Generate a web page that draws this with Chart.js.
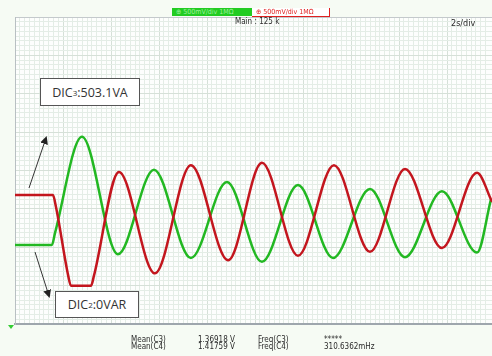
<!DOCTYPE html>
<html>
<head>
<meta charset="utf-8">
<script src="https://cdn.jsdelivr.net/npm/chart.js@4.4.1/dist/chart.umd.min.js"></script>
<style>
  html, body { margin: 0; padding: 0; background: #f6fbf4; overflow: hidden; }
  #wrap { position: relative; width: 492px; height: 356px; }
  canvas { position: absolute; left: 0; top: 0; }
  .lbl { position: absolute; white-space: nowrap; }
  .scope { font-family: "Liberation Sans Narrow", "DejaVu Sans Condensed", "Liberation Sans", sans-serif; color: #2a2a2a; }
  .note { position: absolute; border: 1px solid #555; background: #fff; font-family: "Open Sans", "Noto Sans", sans-serif;
          font-size: 12.5px; color: #333; display: flex; align-items: center; justify-content: center; box-sizing: border-box; }
  .note sub { font-size: 8px; vertical-align: -1px; }
</style>
</head>
<body>
<div id="wrap">
  <canvas id="c" width="492" height="356"></canvas>

  <!-- channel header -->
  <div class="lbl scope" style="left:172px;top:8px;width:80px;height:8px;background:#22cc22;color:#9ef09e;font-size:7px;line-height:8px;padding-left:4px;box-sizing:border-box;">&#8853; 500mV/div 1M&#937;</div>
  <div class="lbl scope" style="left:252px;top:8px;width:78px;height:9px;background:#fff;border-right:1px solid #e02020;border-bottom:1px solid #e02020;color:#e02020;font-size:7px;line-height:8px;padding-left:4px;box-sizing:border-box;">&#8853; 500mV/div 1M&#937;</div>

  <div class="lbl scope" style="left:235px;top:17px;font-size:8px;">Main : 125 k</div>
  <div class="lbl scope" style="left:451px;top:18px;font-size:9px;">2s/div</div>

  <!-- measurement readout -->
  <div class="lbl scope" style="left:131px;top:336px;font-size:8px;line-height:7px;">Mean(C3)<br>Mean(C4)</div>
  <div class="lbl scope" style="left:198px;top:336px;font-size:8px;line-height:7px;">1.36918 V<br>1.41759 V</div>
  <div class="lbl scope" style="left:258px;top:336px;font-size:8px;line-height:7px;">Freq(C3)<br>Freq(C4)</div>
  <div class="lbl scope" style="left:324px;top:336px;font-size:8px;line-height:7px;">*****<br>310.6362mHz</div>

  <!-- annotations -->
  <div class="note" style="left:40px;top:78px;width:100px;height:28px;">DIC<sub>3</sub>:503.1VA</div>
  <div class="note" style="left:55px;top:291px;width:84px;height:27px;">DIC<sub>2</sub>:0VAR</div>

  <svg class="lbl" style="left:0;top:0;" width="492" height="356">
    <defs>
      <marker id="ah" markerWidth="8" markerHeight="8" refX="6" refY="4" orient="auto" markerUnits="userSpaceOnUse">
        <path d="M0,0 L8,4 L0,8 z" fill="#222"/>
      </marker>
    </defs>
    <line x1="29" y1="188" x2="46" y2="138" stroke="#333" stroke-width="1" marker-end="url(#ah)"/>
    <line x1="35" y1="252" x2="49" y2="296" stroke="#333" stroke-width="1" marker-end="url(#ah)"/>
    <path d="M8,325 L14,325 L11,329 z" fill="#33cc33"/>
  </svg>
</div>

<script>
// Channel 3 (red) — time in seconds, level in volts
const redTime  = [0.00, 1.58, 1.71, 2.21, 2.33, 3.17, 3.29, 4.33, 5.83, 7.33, 8.88, 10.29, 11.79, 13.29, 14.79, 16.25, 17.79, 19.25, 19.88];
const redVolts = [-0.32, -0.32, -0.48, -1.36, -1.50, -1.50, -1.37, -0.02, -1.34, 0.07, -1.17, 0.10, -1.11, 0.07, -1.06, 0.02, -1.01, -0.03, -0.41];

// Channel 4 (green)
const greenTime  = [0.00, 1.54, 1.67, 2.79, 4.29, 5.79, 7.33, 8.83, 10.29, 11.79, 13.25, 14.79, 16.25, 17.79, 19.25, 19.83];
const greenVolts = [-0.97, -0.97, -0.81, 0.44, -1.09, 0.01, -1.14, -0.15, -1.19, -0.19, -1.14, -0.24, -1.13, -0.27, -1.07, -0.38];

// Screen: 2 s/div horizontally, 500 mV/div vertically
const timeRange  = [0, 19.875];
const voltRange  = [-2, 2];
const timeMinor  = 0.2;
const timeMajor  = 2;
const voltMinor  = 0.0625;
const voltMajor  = 0.5;

const toXY = (ts, vs) => ts.map((t, i) => ({ x: t, y: vs[i] }));

const near = (v, step) => Math.abs(v / step - Math.round(v / step)) < 1e-6;

const plotBg = {
  id: 'plotBg',
  beforeDraw(chart) {
    const { ctx, chartArea: a } = chart;
    ctx.save();
    ctx.fillStyle = '#fdfefd';
    ctx.fillRect(a.left, a.top, a.right - a.left, a.bottom - a.top);
    ctx.restore();
  }
};

new Chart(document.getElementById('c'), {
  type: 'line',
  data: {
    datasets: [
      {
        label: 'C3',
        data: toXY(redTime, redVolts),
        borderColor: '#c3161e',
        borderWidth: 2.5,
        pointRadius: 0,
        cubicInterpolationMode: 'monotone'
      },
      {
        label: 'C4',
        data: toXY(greenTime, greenVolts),
        borderColor: '#22b822',
        borderWidth: 2.5,
        pointRadius: 0,
        cubicInterpolationMode: 'monotone'
      }
    ]
  },
  options: {
    responsive: false,
    animation: false,
    devicePixelRatio: 1,
    layout: { padding: { left: 15, top: 17, right: 0, bottom: 32 } },
    plugins: { legend: { display: false }, tooltip: { enabled: false } },
    scales: {
      x: {
        type: 'linear',
        min: timeRange[0],
        max: timeRange[1],
        ticks: { display: false, stepSize: timeMinor },
        grid: {
          drawTicks: false,
          lineWidth: 1,
          color: c => near(c.tick.value, timeMajor) ? '#d6e0d8' : '#e4ede6'
        },
        border: { display: true, color: '#9ea6ad', width: 2 }
      },
      y: {
        type: 'linear',
        min: voltRange[0],
        max: voltRange[1],
        ticks: { display: false, stepSize: voltMinor },
        grid: {
          drawTicks: false,
          lineWidth: 1,
          color: c => c.tick.value >= voltRange[1] ? '#c4c9cc'
                    : near(c.tick.value, voltMajor) ? '#d6e0d8' : '#e4ede6'
        },
        border: { display: true, color: '#b8bfc2', width: 1 }
      }
    }
  },
  plugins: [plotBg]
});
</script>
</body>
</html>
